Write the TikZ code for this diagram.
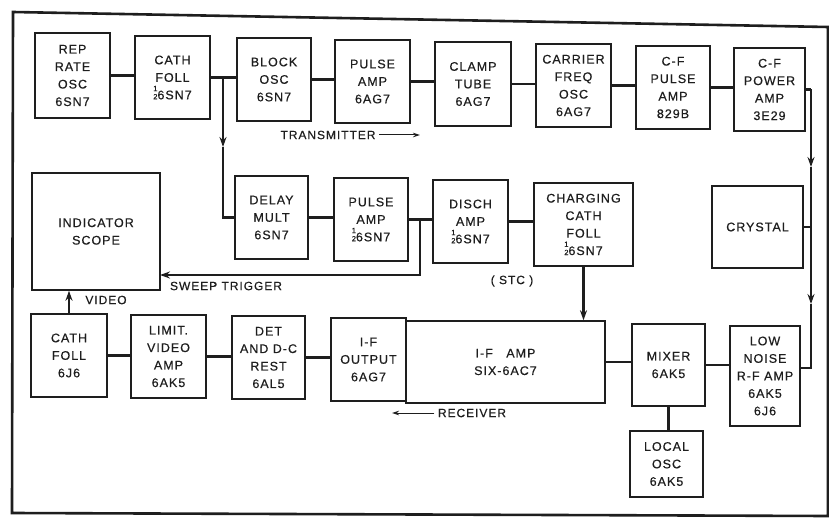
\documentclass[tikz,border=0pt]{standalone}
\usepackage{fontspec}
\setmainfont{Liberation Sans}[LetterSpace=8,FakeBold=0.5]
\usetikzlibrary{arrows.meta}
\definecolor{ink}{HTML}{1E1E1E}
\newcommand{\hf}{{\fontsize{7.5}{6}\selectfont\shortstack{1\\2}}}
\begin{document}
\begin{tikzpicture}[x=1pt,y=-1pt,
  box/.style={draw=ink, line width=1.5pt, align=center, inner sep=1pt, text=ink,
    font=\fontsize{12.5}{17.5}\selectfont},
  wire/.style={draw=ink, line width=2.3pt},
  arr/.style={-{Stealth[length=10pt,width=7pt]}},
  thinarr/.style={draw=ink, line width=1pt, -{Stealth[length=7pt,width=4.5pt]}},
  lbl/.style={text=ink, font=\fontsize{12}{13}\selectfont}]
\useasboundingbox (0,0) rectangle (829,518);
\fill[white] (0,0) rectangle (829,518);
% frame
\draw[ink, line width=2.6pt] (13,12) -- (828,27) -- (828,516) -- (12,513) -- cycle;

% top row
\node[box, minimum width=75pt, minimum height=85pt] (rep) at (72.5,75.5) {REP\\RATE\\OSC\\6SN7};
\node[box, minimum width=75pt, minimum height=83pt] (cf1) at (172.5,77.5) {CATH\\FOLL\\\hf6SN7};
\node[box, minimum width=74pt, minimum height=83pt] (blk) at (274,79.5) {BLOCK\\OSC\\6SN7};
\node[box, minimum width=75pt, minimum height=83pt] (pa1) at (372.5,81.5) {PULSE\\AMP\\6AG7};
\node[box, minimum width=76pt, minimum height=84pt] (clp) at (473,84) {CLAMP\\TUBE\\6AG7};
\node[box, minimum width=75pt, minimum height=83pt] (car) at (573.5,85.5) {CARRIER\\FREQ\\OSC\\6AG7};
\node[box, minimum width=74pt, minimum height=83pt] (cfp) at (673,87.5) {C-F\\PULSE\\AMP\\829B};
\node[box, minimum width=71pt, minimum height=83pt] (cfa) at (769.5,89.5) {C-F\\POWER\\AMP\\3E29};

% middle row
\node[box, minimum width=128pt, minimum height=117pt] (scope) at (96,231.5) {INDICATOR\\SCOPE};
\node[box, minimum width=73pt, minimum height=83pt] (dly) at (271.5,217.5) {DELAY\\MULT\\6SN7};
\node[box, minimum width=74pt, minimum height=83pt] (pa2) at (371,219.5) {PULSE\\AMP\\\hf6SN7};
\node[box, minimum width=75pt, minimum height=83pt] (dis) at (470.5,221.5) {DISCH\\AMP\\\hf6SN7};
\node[box, minimum width=99pt, minimum height=83pt] (chg) at (583.5,224.5) {CHARGING\\CATH\\FOLL\\\hf6SN7};
\node[box, minimum width=91pt, minimum height=82pt] (cry) at (757.5,227) {CRYSTAL};

% bottom row
\node[box, minimum width=76pt, minimum height=83pt] (cf2) at (69,355.5) {CATH\\FOLL\\6J6};
\node[box, minimum width=75pt, minimum height=83pt] (lim) at (168.5,356.5) {LIMIT.\\VIDEO\\AMP\\6AK5};
\node[box, minimum width=73pt, minimum height=83pt] (det) at (268.5,357.5) {DET\\AND D-C\\REST\\6AL5};
\node[box, minimum width=75pt, minimum height=83pt] (ifo) at (368.5,359.5) {I-F\\OUTPUT\\6AG7};
\node[box, minimum width=199pt, minimum height=82pt] (ifa) at (505.5,362) {I-F\ \ \ AMP\\SIX-6AC7};
\node[box, minimum width=73pt, minimum height=82pt] (mix) at (668.5,365) {MIXER\\6AK5};
\node[box, minimum width=70pt, minimum height=100pt] (lna) at (765,376) {LOW\\NOISE\\R-F AMP\\6AK5\\6J6};
\node[box, minimum width=73pt, minimum height=66pt] (loc) at (666.5,464) {LOCAL\\OSC\\6AK5};

% top chain
\draw[wire] (rep.east) -- (rep.east -| cf1.west);
\draw[wire] (cf1.east) -- (cf1.east -| blk.west);
\draw[wire] (blk.east) -- (blk.east -| pa1.west);
\draw[wire] (pa1.east) -- (pa1.east -| clp.west);
\draw[wire] (clp.east) -- (clp.east -| car.west);
\draw[wire] (car.east) -- (car.east -| cfp.west);
\draw[wire] (cfp.east) -- (cfp.east -| cfa.west);

% branch to delay mult
\coordinate (j1) at (223,77.5);
\coordinate (j1a) at (223,147);
\draw[wire, arr] (j1) -- (j1a);
\draw[wire] (j1a) -- (j1a |- dly.west) -- (dly.west);

% right side chain
\coordinate (r1) at (811,89.5);
\coordinate (r1a) at (811,167);
\coordinate (r2a) at (811,304);
\coordinate (r2) at (811,368);
\draw[wire] (cfa.east) -- (r1);
\draw[wire, arr] (r1) -- (r1a);
\draw[wire, arr] (r1a) -- (r2a);
\draw[wire] (r2a) -- (r2) -- (lna.east |- r2);
\draw[wire] (cry.east) -- (cry.east -| r1);

% middle chain
\draw[wire] (dly.east) -- (dly.east -| pa2.west);
\draw[wire] (pa2.east) -- (pa2.east -| dis.west);
\draw[wire] (dis.east) -- (dis.east -| chg.west);
\coordinate (j2) at (420,219.5);
\coordinate (sw) at (160,275);
\draw[wire, arr] (j2) -- (j2 |- sw) -- (sw);
\draw[wire, arr] (chg.south) -- (chg.south |- ifa.north);

% bottom chain
\draw[wire, arr] (cf2.north) -- (cf2.north |- scope.south);
\draw[wire] (cf2.east) -- (cf2.east -| lim.west);
\draw[wire] (lim.east) -- (lim.east -| det.west);
\draw[wire] (det.east) -- (det.east -| ifo.west);
\draw[wire] (ifa.east) -- (ifa.east -| mix.west);
\draw[wire] (mix.east) -- (mix.east -| lna.west);
\draw[wire] (mix.south) -- (mix.south |- loc.north);

% labels
\node[lbl] (tx) at (328,135) {TRANSMITTER};
\coordinate (txe) at (420,135);
\draw[thinarr] (tx.east) -- (txe);
\node[lbl] (swl) at (226,286) {SWEEP TRIGGER};
\node[lbl] (stc) at (512,281) {( STC )};
\node[lbl] (vid) at (106,300) {VIDEO};
\node[lbl] (rx) at (472,413) {RECEIVER};
\coordinate (rxe) at (392,413);
\draw[thinarr] (rx.west) -- (rxe);
\end{tikzpicture}
\end{document}
